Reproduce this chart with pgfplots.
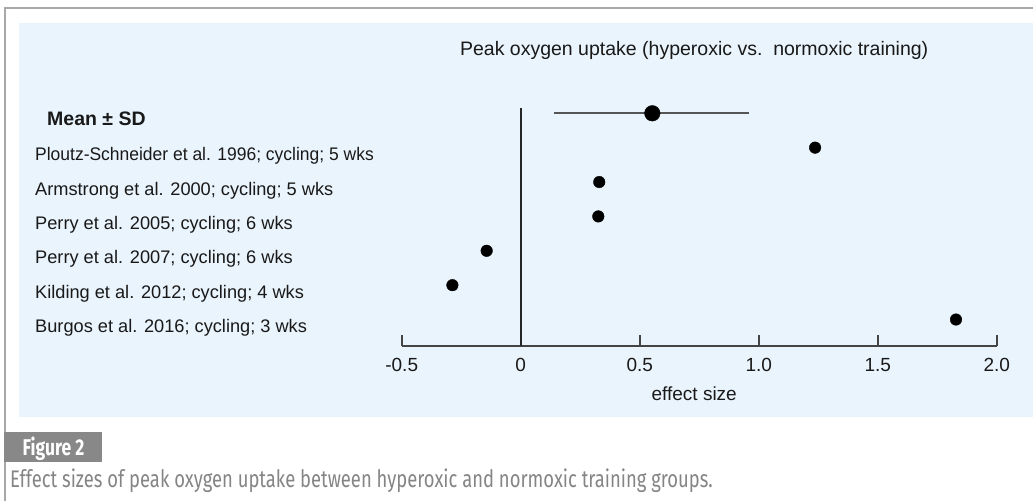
\documentclass[border=0pt]{standalone}
\usepackage{fontspec}
\setmainfont{Liberation Sans}
\newfontfamily\capfont[FakeStretch=0.767]{Fira Sans}
\usepackage{pgfplots}
\usepackage{pgfplotstable}
\pgfplotsset{compat=1.18}
\definecolor{panel}{HTML}{EAF4FC}
\definecolor{framegray}{HTML}{A8A8A8}
\definecolor{boxgray}{HTML}{888888}
\definecolor{capgray}{HTML}{858585}
\definecolor{axgray}{HTML}{444444}
\definecolor{ebgray}{HTML}{555555}

\pgfplotstableread{
x y
1.237 -1
0.330 -2
0.326 -3
-0.143 -4
-0.287 -5
1.829 -6
}\studies

\begin{document}
\begin{tikzpicture}
\path[use as bounding box] (0pt,0pt) rectangle (1033pt,-501pt);
\fill[white] (0pt,0pt) rectangle (1033pt,-501pt);
\draw[framegray, line width=2pt] (4.5pt,-501pt) -- (4.5pt,-8.3pt) -- (1033pt,-8.3pt);
\fill[panel] (19pt,-22.7pt) rectangle (1033pt,-416.7pt);
\begin{axis}[
  at={(401.7pt,-346pt)}, anchor=south west,
  width=595pt, height=237.7pt, scale only axis,
  xmin=-0.5, xmax=2.0, ymin=-6.77, ymax=0.145,
  axis x line=bottom, axis y line=none,
  axis line style={-, axgray, line width=1.8pt},
  xtick={-0.5,0,0.5,1,1.5,2},
  xticklabels={-0.5,0,0.5,1.0,1.5,2.0},
  tick align=inside, major tick length=10.7pt,
  xtick style={axgray, line width=1.8pt},
  xticklabel style={anchor=base, yshift=-25.7pt, font=\fontsize{19}{22}\selectfont, text=black!90},
  title={Peak oxygen uptake (hyperoxic vs.\ \ normoxic training)},
  every axis title/.style={at={(0.5,1)}, anchor=base, yshift=53pt, xshift=-5pt, font=\fontsize{19.5}{22}\selectfont, text=black!90},
  xlabel={effect size},
  every axis x label/.style={at={(0.5,0)}, anchor=base, yshift=-54pt, xshift=-5pt, font=\fontsize{19}{22}\selectfont, text=black!90},
  clip=false,
]
\addplot[black!85, line width=1.8pt] coordinates {(0,0.145) (0,-6.77)};
\addplot[only marks, mark=none, error bars/.cd, x dir=both, x explicit, error mark=none,
  error bar style={draw=ebgray, line width=1.8pt}] coordinates {(0.549,0) +- (0.41,0)};
\addplot[only marks, mark=*, mark size=7.8pt, black] coordinates {(0.553,0)};
\addplot[only marks, mark=*, mark size=5.8pt, black] table[x=x, y=y] {\studies};
\end{axis}
\begin{scope}[every node/.style={anchor=base west, inner sep=0pt, font=\fontsize{18.2}{22}\selectfont, text=black!90}]
\node[font=\fontsize{19.5}{22}\selectfont\bfseries] at (47pt,-125.9pt) {Mean ± SD};
\node at (35pt,-160.8pt) {\scalebox{0.96}[1]{Ploutz-Schneider et al. 1996; cycling; 5 wks}};
\node at (35pt,-195.2pt) {Armstrong et al. 2000; cycling; 5 wks};
\node at (35pt,-229.5pt) {Perry et al. 2005; cycling; 6 wks};
\node at (35pt,-263.9pt) {Perry et al. 2007; cycling; 6 wks};
\node at (35pt,-298.3pt) {Kilding et al. 2012; cycling; 4 wks};
\node at (35pt,-332.3pt) {Burgos et al. 2016; cycling; 3 wks};
\end{scope}
\fill[boxgray] (4pt,-431.7pt) rectangle (101.7pt,-461.7pt);
\node[anchor=base west, inner sep=0pt, text=white, font=\capfont\bfseries\fontsize{22.8}{26}\selectfont] at (22.5pt,-455pt) {Figure 2};
\node[anchor=base west, inner sep=0pt, text=capgray, font=\capfont\fontsize{24}{28}\selectfont] at (10pt,-487.5pt) {Effect sizes of peak oxygen uptake between hyperoxic and normoxic training groups.};
\end{tikzpicture}
\end{document}
